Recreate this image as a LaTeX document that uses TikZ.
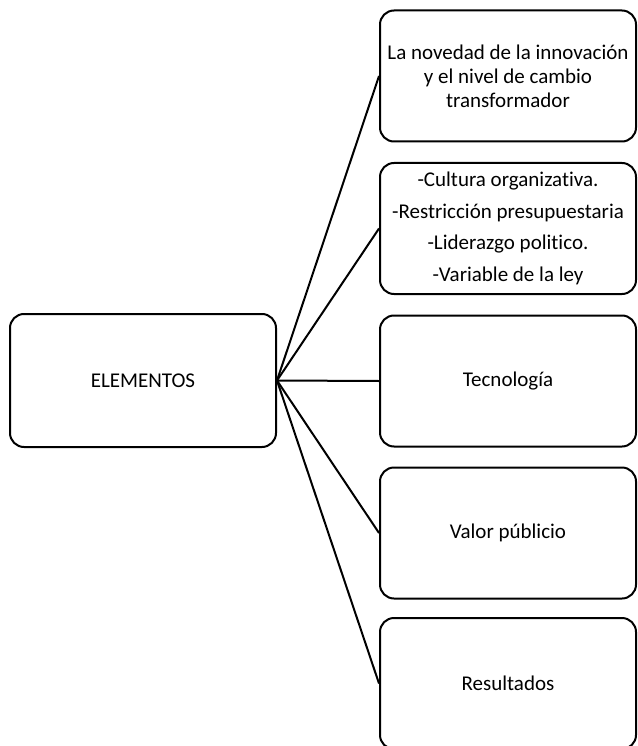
\documentclass[tikz,border=0pt]{standalone}
\usepackage{fontspec}
\setmainfont[Ligatures=CommonOff]{Carlito}
\begin{document}
\begin{tikzpicture}[x=1pt,y=-1pt,
  box/.style={draw=black, line width=2pt, rounded corners=14pt, align=center,
    inner sep=0pt, font=\fontsize{21}{24}\selectfont},
  rbox/.style={box, minimum width=256pt, minimum height=131pt},
  link/.style={draw=black, line width=2pt}]
\useasboundingbox (0,0) rectangle (637,746);
\node[box, minimum width=266pt, minimum height=133pt] (el) at (143,380.5) {ELEMENTOS};
\node[rbox] (r1) at (508,76) {La novedad de la innovación\\y el nivel de cambio\\transformador};
\node[rbox] (r2) at (508,228.5) {-Cultura organizativa.\\[7.5pt]-Restricción presupuestaria\\[7.5pt]-Liderazgo politico.\\[7.5pt]-Variable de la ley};
\node[rbox] (r3) at (508,381) {Tecnología};
\node[rbox] (r4) at (508,533) {Valor públicio};
\node[rbox] (r5) at (508,683.5) {Resultados};
\foreach \r in {r1,r2,r3,r4,r5}
  \draw[link] (el.east) -- (\r.west);
\end{tikzpicture}
\end{document}
